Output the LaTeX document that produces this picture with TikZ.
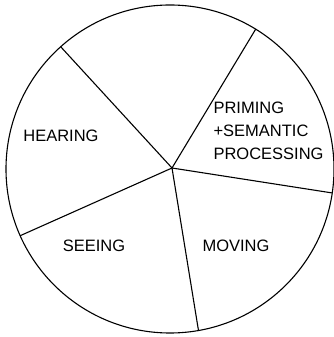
\documentclass[tikz,border=0pt]{standalone}
\usepackage{fontspec}
\setmainfont{Liberation Sans}
\usetikzlibrary{positioning}

\begin{document}
\begin{tikzpicture}[x=1pt, y=1pt, line width=1.1pt]
\useasboundingbox (0,0) rectangle (334,337);
\coordinate (c) at (170,168);
\coordinate (hub) at (172,169);
\draw [black] (c) circle (164);
% spokes out of the hub
\foreach \a [count=\i] in {131.8,58.5,-8.4,-80,204} {
  \coordinate (e\i) at ([shift={(\a:164)}]c);
  \draw [black] (hub) -- (e\i);
}
\begin{scope}[every node/.style={font=\fontsize{16.5}{23}\selectfont, inner sep=0pt}]
\node (hearing) at (61,201) {HEARING};
\node (seeing)  at (94,91)  {SEEING};
\node (moving)  at (236,91) {MOVING};
\node [align=left, anchor=west] (priming) at (213,206) {PRIMING\\+SEMANTIC\\PROCESSING};
\end{scope}
\end{tikzpicture}
\end{document}
